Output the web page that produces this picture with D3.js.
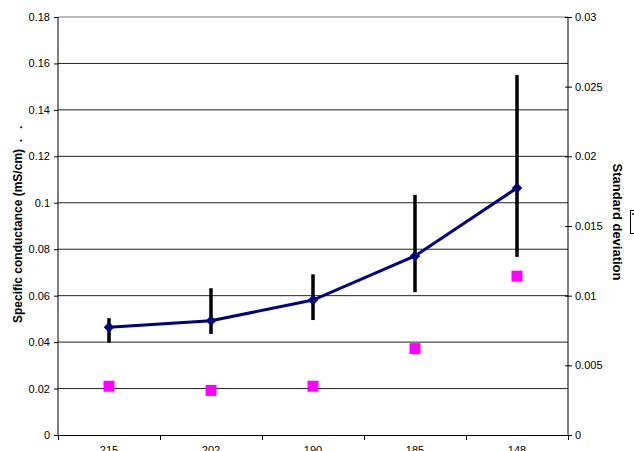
<!DOCTYPE html>
<html lang="en">
<head>
    <meta charset="UTF-8">
    <title>Specific conductance</title>
    <script src="https://d3js.org/d3.v7.min.js"></script>
    <style>
        body { margin: 0; background: #fff; }
        svg { display: block; font-family: "Liberation Sans", Arial, sans-serif; }
    </style>
</head>
<body>
<script>
    // Data
    const categories = ["215", "202", "190", "185", "148"];
    const meanValues = [0.0464, 0.0492, 0.0581, 0.0771, 0.1064];
    const highValues = [0.0503, 0.0632, 0.0692, 0.1034, 0.1550];
    const lowValues = [0.0398, 0.0435, 0.0495, 0.0615, 0.0767];
    const stdDevValues = [0.0035, 0.0032, 0.0035, 0.0062, 0.0114];
    const leftTicks = [0, 0.02, 0.04, 0.06, 0.08, 0.1, 0.12, 0.14, 0.16, 0.18];
    const rightTicks = [0, 0.005, 0.01, 0.015, 0.02, 0.025, 0.03];

    const w = 634;
    const h = 451;
    const plot = { left: 58, right: 568, top: 17, bottom: 435 };

    const svg = d3.select("body")
        .append("svg")
        .attr("width", w)
        .attr("height", h);

    const xScale = d3.scaleBand()
        .domain(categories)
        .range([plot.left, plot.right]);

    const xEdge = d3.scaleLinear()
        .domain([0, categories.length])
        .range([plot.left, plot.right]);

    const yScale = d3.scaleLinear()
        .domain([0, 0.18])
        .range([plot.bottom, plot.top]);

    const y2Scale = d3.scaleLinear()
        .domain([0, 0.03])
        .range([plot.bottom, plot.top]);

    const cx = (i) => xScale(categories[i]) + xScale.bandwidth() / 2;

    // gridlines
    svg.append("g")
        .selectAll("line")
        .data(leftTicks.slice(1))
        .enter()
        .append("line")
        .attr("x1", plot.left)
        .attr("x2", plot.right)
        .attr("y1", (d) => yScale(d))
        .attr("y2", (d) => yScale(d))
        .attr("stroke", (d) => d === 0.18 ? "#777" : "#222")
        .attr("stroke-width", 1);

    // left axis
    const yAxis = d3.axisLeft(yScale)
        .tickValues(leftTicks)
        .tickSize(4)
        .tickPadding(4)
        .tickFormat((d) => String(+d.toFixed(2)));
    const gy = svg.append("g")
        .attr("transform", `translate(${plot.left}, 0)`)
        .call(yAxis);

    // right axis, ticks cross the line
    const y2Axis = d3.axisRight(y2Scale)
        .tickValues(rightTicks)
        .tickSize(4)
        .tickPadding(3)
        .tickFormat((d) => String(+d.toFixed(3)));
    const gy2 = svg.append("g")
        .attr("transform", `translate(${plot.right}, 0)`)
        .call(y2Axis);
    gy2.selectAll(".tick line").attr("x1", -3);

    // bottom axis: boundary ticks + category labels
    const gxEdge = svg.append("g")
        .attr("transform", `translate(0, ${plot.bottom})`)
        .call(d3.axisBottom(xEdge).tickValues(d3.range(categories.length + 1)).tickSize(5).tickFormat(""));

    const gx = svg.append("g")
        .attr("transform", `translate(0, ${plot.bottom})`)
        .call(d3.axisBottom(xScale).tickSize(0).tickPadding(11));
    gx.select(".domain").remove();

    [gy, gy2, gxEdge, gx].forEach((g) => {
        g.selectAll("text")
            .attr("fill", "#000")
            .style("font-size", "11px")
            .style("font-family", "'Liberation Sans', Arial, sans-serif");
        g.selectAll("line, path").attr("stroke", "#000");
    });
    gy.select(".domain").attr("d", `M0,${plot.top}V${plot.bottom}`);
    gy2.select(".domain").attr("d", `M0,${plot.top}V${plot.bottom}`);

    // error bars
    svg.append("g")
        .selectAll("line")
        .data(categories)
        .enter()
        .append("line")
        .attr("x1", (d, i) => cx(i))
        .attr("x2", (d, i) => cx(i))
        .attr("y1", (d, i) => yScale(highValues[i]))
        .attr("y2", (d, i) => yScale(lowValues[i]))
        .attr("stroke", "#000")
        .attr("stroke-width", 3.5);

    // mean line
    const line = d3.line()
        .x((d, i) => cx(i))
        .y((d) => yScale(d));
    svg.append("path")
        .datum(meanValues)
        .attr("d", line)
        .attr("fill", "none")
        .attr("stroke", "#000080")
        .attr("stroke-width", 3);

    svg.append("g")
        .selectAll("path")
        .data(meanValues)
        .enter()
        .append("path")
        .attr("d", d3.symbol().type(d3.symbolDiamond2).size(70))
        .attr("transform", (d, i) => `translate(${cx(i)}, ${yScale(d)})`)
        .attr("fill", "#000080");

    // standard deviation squares (right axis)
    svg.append("g")
        .selectAll("rect")
        .data(stdDevValues)
        .enter()
        .append("rect")
        .attr("x", (d, i) => cx(i) - 5.5)
        .attr("y", (d) => y2Scale(d) - 5.5)
        .attr("width", 11)
        .attr("height", 11)
        .attr("fill", "#ff00ff");

    // axis titles
    svg.append("text")
        .attr("transform", `translate(22, 323) rotate(-90)`)
        .style("font-size", "12px")
        .style("font-weight", "bold")
        .attr("xml:space", "preserve")
        .text("Specific conductance (mS/cm)  .   .");

    svg.append("text")
        .attr("transform", `translate(613, 222) rotate(90)`)
        .attr("text-anchor", "middle")
        .style("font-size", "13px")
        .style("font-weight", "bold")
        .text("Standard deviation");

    // clipped legend box at the right edge
    svg.append("rect")
        .attr("x", 630.5)
        .attr("y", 210.5)
        .attr("width", 20)
        .attr("height", 23)
        .attr("fill", "#fff")
        .attr("stroke", "#000");
    svg.append("line")
        .attr("x1", 632)
        .attr("x2", 634)
        .attr("y1", 214)
        .attr("y2", 214)
        .attr("stroke", "#000080")
        .attr("stroke-width", 1.5);
</script>
</body>
</html>
